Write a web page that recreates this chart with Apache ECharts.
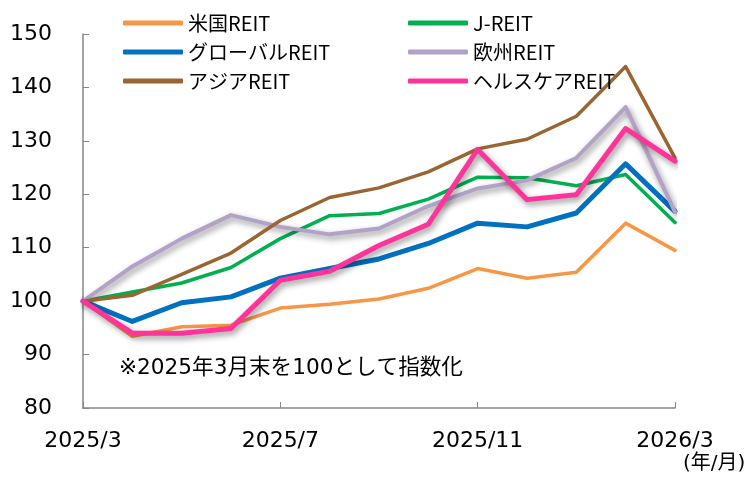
<!DOCTYPE html>
<html>
<head>
<meta charset="utf-8">
<script src="https://cdn.jsdelivr.net/npm/echarts@6/dist/echarts.min.js"></script>
<style>
  html, body { margin: 0; padding: 0; background: #fff; }
  #box { width: 750px; height: 479px; }
</style>
</head>
<body>
<div id="box"></div>
<script>
var months = ['2025/3', '2025/4', '2025/5', '2025/6', '2025/7', '2025/8', '2025/9',
    '2025/10', '2025/11', '2025/12', '2026/1', '2026/2', '2026/3'];
var usReit = [100, 93.4, 95.2, 95.5, 98.7, 99.4, 100.4, 102.4, 106.1, 104.3, 105.4, 114.6, 109.5];
var jReit = [100, 101.7, 103.4, 106.3, 111.7, 116.0, 116.4, 119.1, 123.2, 123.1, 121.6, 123.7, 114.7];
var globalReit = [100, 96.2, 99.7, 100.8, 104.3, 106.1, 107.9, 110.8, 114.6, 113.9, 116.5, 125.7, 116.8];
var euroReit = [100, 106.5, 111.7, 116.1, 113.9, 112.5, 113.6, 117.8, 121.1, 122.6, 126.8, 136.3, 116.7];
var asiaReit = [100, 101.1, 105.0, 109.0, 115.1, 119.4, 121.2, 124.2, 128.5, 130.3, 134.6, 143.9, 126.8];
var healthReit = [100, 94.0, 94.0, 94.9, 103.9, 105.6, 110.4, 114.4, 128.4, 119.0, 119.9, 132.3, 126.2];
var yTicks = { min: 80, max: 150, step: 10 };

var font = '"DejaVu Sans", "Noto Sans CJK JP", sans-serif';
var jpFont = '"Noto Sans CJK JP", sans-serif';

function line(name, data, color, width, shadow) {
    var ls = { color: color, width: width, cap: 'round', join: 'round' };
    if (shadow) {
        ls.shadowColor = 'rgba(0,0,0,0.45)';
        ls.shadowBlur = 6;
        ls.shadowOffsetX = 2;
        ls.shadowOffsetY = 3;
    }
    return {
        name: name,
        type: 'line',
        data: data,
        symbol: 'none',
        color: color,
        lineStyle: ls,
        animation: false
    };
}

var myChart = echarts.init(document.getElementById('box'));
var legendText = { fontFamily: jpFont, fontSize: 20, lineHeight: 20, color: '#000' };
var option = {
    backgroundColor: '#fff',
    legend: [{
        left: 118, top: 8, orient: 'vertical', itemGap: 9,
        icon: 'roundRect', itemWidth: 60, itemHeight: 5,
        textStyle: legendText,
        data: ['米国REIT', 'グローバルREIT', 'アジアREIT']
    }, {
        left: 403, top: 8, orient: 'vertical', itemGap: 9,
        icon: 'roundRect', itemWidth: 60, itemHeight: 5,
        textStyle: legendText,
        data: ['J-REIT', '欧州REIT', 'ヘルスケアREIT']
    }],
    grid: { left: 83, right: 75, top: 34, bottom: 71 },
    xAxis: {
        type: 'category',
        boundaryGap: false,
        data: months,
        axisLine: { lineStyle: { color: '#868686', width: 1.5 } },
        axisTick: { inside: true, interval: 3, length: 6, lineStyle: { color: '#868686' } },
        axisLabel: { interval: 3, margin: 22, fontFamily: font, fontSize: 22, color: '#000' },
        splitLine: { show: false }
    },
    yAxis: {
        type: 'value',
        min: yTicks.min, max: yTicks.max, interval: yTicks.step,
        axisLine: { show: true, lineStyle: { color: '#868686', width: 1.5 } },
        axisTick: { show: true, inside: true, length: 6, lineStyle: { color: '#868686' } },
        axisLabel: { margin: 31, fontFamily: font, fontSize: 22, color: '#000' },
        splitLine: { show: false }
    },
    graphic: [{
        type: 'text', left: 119, top: 358,
        style: { text: '※2025年3月末を100として指数化', font: '21.6px ' + font, fill: '#000' }
    }, {
        type: 'text', left: 683, top: 454,
        style: { text: '(年/月)', font: '20px ' + font, fill: '#000' }
    }],
    series: [
        line('米国REIT', usReit, '#F79646', 3.5),
        line('J-REIT', jReit, '#00B050', 3.5),
        line('グローバルREIT', globalReit, '#0070C0', 5),
        line('欧州REIT', euroReit, '#B3A2C7', 4, true),
        line('アジアREIT', asiaReit, '#996633', 3.5),
        line('ヘルスケアREIT', healthReit, '#FF3399', 5, true)
    ]
};
myChart.setOption(option);
</script>
</body>
</html>
